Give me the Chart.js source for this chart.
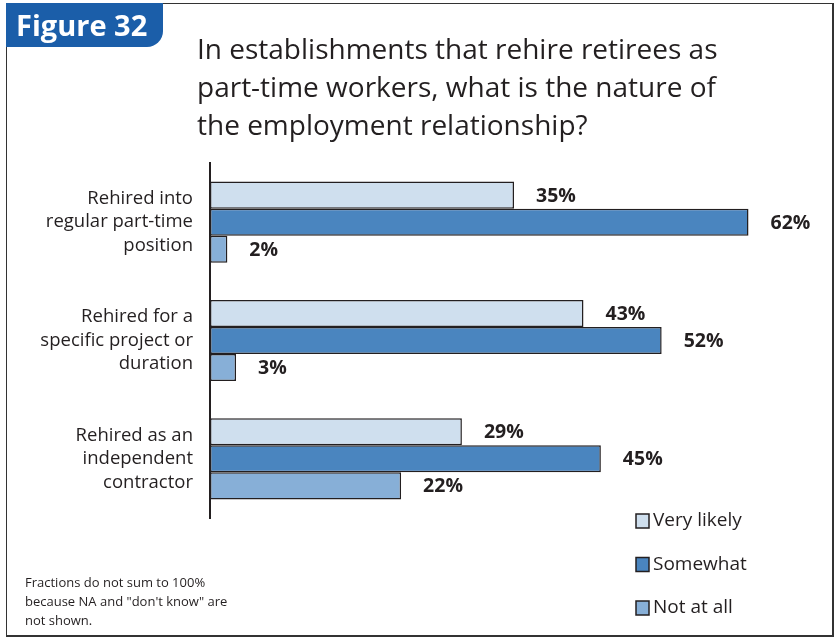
<!DOCTYPE html>
<html>
<head>
<meta charset="utf-8">
<script src="https://cdn.jsdelivr.net/npm/chart.js@4/dist/chart.umd.min.js"></script>
<style>
  body { margin: 0; background: #fff; }
  #wrap { position: relative; width: 836px; height: 640px; font-family: "Open Sans", sans-serif; color: #231f20; }
  #frame { position: absolute; left: 6px; top: 3px; width: 828px; height: 634px; border: 1.5px solid #333; border-right-width: 2px; border-bottom-width: 2px; box-sizing: border-box; }
  #tab { position: absolute; left: 6px; top: 3px; width: 157px; height: 44px; background: #1b5ea9; border-bottom-right-radius: 16px; color: #fff; font-weight: bold; font-size: 29px; line-height: 44px; padding-left: 10px; box-sizing: border-box; }
  #title { position: absolute; left: 197px; top: 29px; font-size: 28px; line-height: 38px; }
  #note { position: absolute; left: 25px; top: 573px; font-size: 13px; line-height: 19px; }
  canvas { position: absolute; left: 0; top: 0; }
</style>
</head>
<body>
<div id="wrap">
  <div id="frame"></div>
  <canvas id="c" width="836" height="640"></canvas>
  <div id="tab">Figure 32</div>
  <div id="title">In establishments that rehire retirees as<br>part-time workers, what is the nature of<br>the employment relationship?</div>
  <div id="note">Fractions do not sum to 100%<br>because NA and "don't know" are<br>not shown.</div>
</div>
<script>
const categories = [
  ['Rehired into', 'regular part-time', 'position'],
  ['Rehired for a', 'specific project or', 'duration'],
  ['Rehired as an', 'independent', 'contractor']
];
const seriesNames = ['Very likely', 'Somewhat', 'Not at all'];
const veryLikely = [35, 43, 29];
const somewhat = [62, 52, 45];
const notAtAll = [2, 3, 22];
const colors = ['#cfdfee', '#4a85bf', '#87afd7'];

const valueLabels = {
  id: 'valueLabels',
  afterDatasetsDraw(chart) {
    const ctx = chart.ctx;
    ctx.save();
    ctx.font = 'bold 19.5px "Open Sans", sans-serif';
    ctx.fillStyle = '#231f20';
    ctx.textBaseline = 'middle';
    ctx.textAlign = 'left';
    chart.data.datasets.forEach((ds, i) => {
      chart.getDatasetMeta(i).data.forEach((bar, j) => {
        ctx.fillText(ds.data[j] + '%', bar.x + 22, bar.y + 1);
      });
    });
    ctx.restore();
  }
};

const sideLegend = {
  id: 'sideLegend',
  afterDraw(chart) {
    const ctx = chart.ctx;
    ctx.save();
    ctx.font = '19px "Open Sans", sans-serif';
    ctx.textBaseline = 'middle';
    chart.data.datasets.forEach((ds, i) => {
      const y = 521 + i * 43.5;
      ctx.fillStyle = ds.backgroundColor;
      ctx.fillRect(636, y - 7, 13, 14);
      ctx.strokeStyle = '#231f20';
      ctx.lineWidth = 1.5;
      ctx.strokeRect(636, y - 7, 13, 14);
      ctx.fillStyle = '#231f20';
      ctx.fillText(ds.label, 653, y);
    });
    ctx.restore();
  }
};

const series = [veryLikely, somewhat, notAtAll];

new Chart(document.getElementById('c'), {
  type: 'bar',
  data: {
    labels: categories,
    datasets: series.map((d, i) => ({
      label: seriesNames[i],
      data: d,
      backgroundColor: colors[i],
      borderColor: '#231f20',
      borderWidth: 1.5,
      borderSkipped: false,
      barPercentage: 1,
      categoryPercentage: 0.686
    }))
  },
  options: {
    indexAxis: 'y',
    responsive: false,
    animation: false,
    layout: { padding: { left: 0, right: 18, top: 163, bottom: 122 } },
    plugins: { legend: { display: false }, tooltip: { enabled: false } },
    scales: {
      x: { display: false, min: 0, max: 70 },
      y: {
        afterFit(scale) { scale.width = 210; },
        grid: { display: false, drawTicks: false },
        border: { display: true, color: '#231f20', width: 2 },
        ticks: {
          color: '#231f20',
          padding: 17,
          font: { family: '"Open Sans", sans-serif', size: 18.5, lineHeight: 1.27 }
        }
      }
    }
  },
  plugins: [valueLabels, sideLegend]
});
</script>
</body>
</html>
